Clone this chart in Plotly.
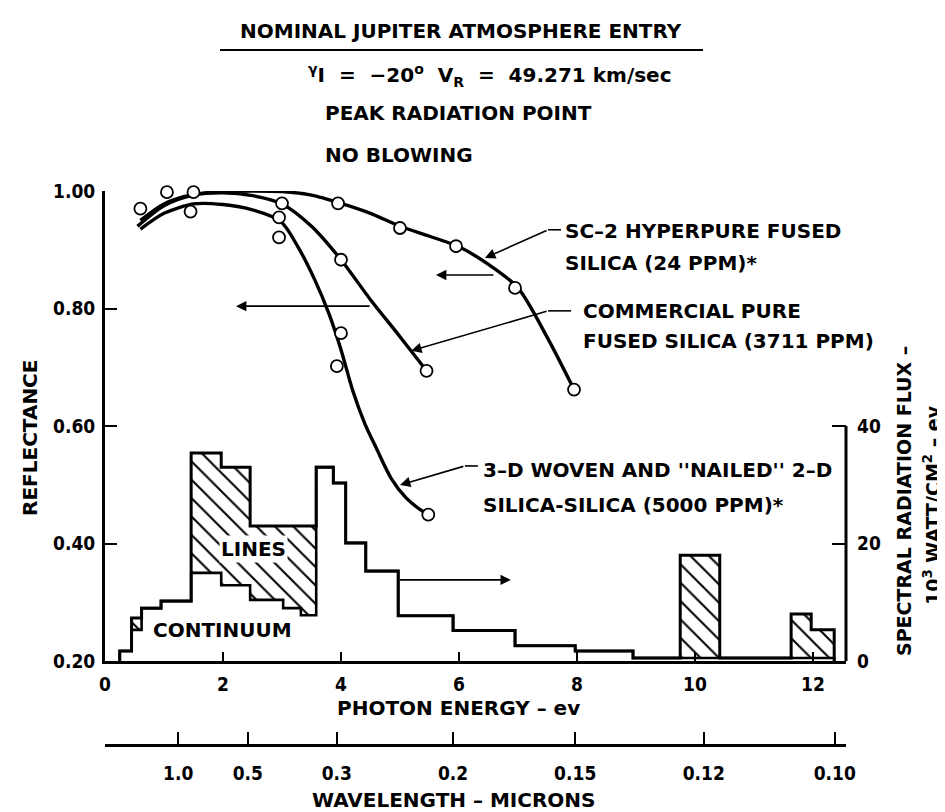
import plotly.graph_objects as go

# ---------------- data ----------------
energy_ticks = [0, 2, 4, 6, 8, 10, 12]
refl_ticks = [0.2, 0.4, 0.6, 0.8, 1.0]
refl_ticktext = ["0.20", "0.40", "0.60", "0.80", "1.00"]
flux_ticks = [0, 20, 40]
flux_ticktext = ["0", "20", "40"]
wl_tick_energy = [1.24, 2.42, 3.93, 5.9, 7.97, 10.15, 12.37]
wl_tick_labels = ["1.0", "0.5", "0.3", "0.2", "0.15", "0.12", "0.10"]

# reflectance curves (photon energy eV, reflectance)
sc2_curve_x = [0.6, 1.0, 1.5, 2.0, 2.5, 3.0, 3.5, 4.0, 4.5, 5.0, 5.5, 6.0, 6.5, 7.0, 7.5, 7.95]
sc2_curve_y = [0.95, 0.978, 0.994, 0.999, 1.0, 0.999, 0.993, 0.979, 0.962, 0.94, 0.923, 0.905, 0.875, 0.835, 0.75, 0.662]
com_curve_x = [0.55, 1.0, 1.5, 2.0, 2.5, 3.0, 3.5, 4.0, 4.5, 5.0, 5.45]
com_curve_y = [0.94, 0.975, 0.993, 0.997, 0.992, 0.978, 0.94, 0.883, 0.815, 0.752, 0.694]
wov_curve_x = [0.6, 1.0, 1.5, 2.0, 2.5, 2.98, 3.27, 3.55, 3.8, 4.0, 4.2, 4.4, 4.6, 4.85, 5.1, 5.31, 5.48]
wov_curve_y = [0.935, 0.962, 0.978, 0.977, 0.968, 0.948, 0.905, 0.85, 0.79, 0.73, 0.66, 0.605, 0.562, 0.511, 0.478, 0.46, 0.449]

# measured points (open circles)
sc2_pts_x = [1.05, 2.05, 3.0, 3.95, 5.0, 5.95, 6.95, 7.95]
sc2_pts_y = [0.998, 1.002, 1.005, 0.979, 0.937, 0.906, 0.835, 0.662]
com_pts_x = [0.6, 1.5, 3.0, 4.0, 5.45]
com_pts_y = [0.970, 0.998, 0.979, 0.883, 0.694]
wov_pts_x = [1.45, 2.95, 2.95, 3.93, 4.0, 5.48]
wov_pts_y = [0.965, 0.955, 0.921, 0.702, 0.758, 0.449]

# spectral radiation flux histogram (10^3 W/cm^2-eV)
bin_edges = [0.25, 0.45, 0.62, 0.95, 1.46, 1.97, 2.46, 3.02, 3.32, 3.58, 3.87, 4.08,
             4.42, 4.97, 5.90, 6.95, 7.97, 8.95, 9.75, 10.42, 11.63, 11.97, 12.36]
continuum = [1.7, 5.3, 9.0, 10.2, 15.0, 12.9, 10.4, 9.0, 7.8, 33.0, 30.3, 20.1,
             15.3, 7.7, 5.2, 2.6, 1.7, 0.5, 0.5, 0.5, 0.5, 0.5]
lines = [0, 2.0, 0, 0, 20.4, 20.1, 12.6, 14.0, 15.2, 0, 0, 0,
         0, 0, 0, 0, 0, 0, 17.5, 0, 7.5, 4.8]

# ---------------- geometry helpers ----------------
W, H = 945, 812
ML, MR, MT, MB = 97, 107, 183, 75
PW, PH = W - ML - MR, H - MT - MB
Y_BOTTOM_PX = 653  # pixel row of main x axis


def px(xp, yp):
    return (xp - ML) / PW, (H - MB - yp) / PH


total = [c + l for c, l in zip(continuum, lines)]


def step_outline(vals):
    xs, ys = [bin_edges[0]], [0]
    for k in range(len(vals)):
        xs += [bin_edges[k], bin_edges[k + 1]]
        ys += [vals[k], vals[k]]
    xs.append(bin_edges[-1]); ys.append(0)
    return xs, ys


out_x, out_y = step_outline(total)
con_x, con_y = step_outline(continuum)

# hatched polygons for line contributions (contiguous runs)
hx, hy = [], []
i = 0
n = len(lines)
while i < n:
    if lines[i] > 0:
        j = i
        while j + 1 < n and lines[j + 1] > 0:
            j += 1
        top_x, top_y, bot_x, bot_y = [], [], [], []
        for k in range(i, j + 1):
            top_x += [bin_edges[k], bin_edges[k + 1]]
            top_y += [total[k], total[k]]
            bot_x += [bin_edges[k], bin_edges[k + 1]]
            bot_y += [continuum[k], continuum[k]]
        hx += top_x + bot_x[::-1] + [top_x[0], None]
        hy += top_y + bot_y[::-1] + [top_y[0], None]
        i = j + 1
    else:
        i += 1

FONT = "DejaVu Sans"
TXT = dict(family=FONT, size=20, color="black", weight="bold")
TICKF = dict(family="DejaVu Sans Condensed, DejaVu Sans", size=19, color="black", weight="bold")

fig = go.Figure()

fig.add_trace(go.Scatter(x=hx, y=hy, mode="lines", fill="toself", yaxis="y2",
                         line=dict(width=0, color="black"),
                         fillcolor="white",
                         fillpattern=dict(shape="\\", size=13, solidity=0.16,
                                          fgcolor="black", bgcolor="white",
                                          fgopacity=1, fillmode="replace"),
                         hoverinfo="skip", showlegend=False))
fig.add_trace(go.Scatter(x=con_x, y=con_y, mode="lines", yaxis="y2",
                         line=dict(color="black", width=2.6),
                         hoverinfo="skip", showlegend=False))
fig.add_trace(go.Scatter(x=out_x, y=out_y, mode="lines", yaxis="y2",
                         line=dict(color="black", width=3),
                         hoverinfo="skip", showlegend=False))

for cx, cy in [(sc2_curve_x, sc2_curve_y), (com_curve_x, com_curve_y), (wov_curve_x, wov_curve_y)]:
    fig.add_trace(go.Scatter(x=cx, y=cy, mode="lines",
                             line=dict(color="black", width=3.4, shape="spline", smoothing=0.8),
                             hoverinfo="skip", showlegend=False))

for mx, my in [(sc2_pts_x, sc2_pts_y), (com_pts_x, com_pts_y), (wov_pts_x, wov_pts_y)]:
    fig.add_trace(go.Scatter(x=mx, y=my, mode="markers", cliponaxis=False,
                             marker=dict(symbol="circle", size=12, color="white",
                                         line=dict(color="black", width=1.8)),
                             hoverinfo="skip", showlegend=False))

# invisible trace to activate wavelength axis
fig.add_trace(go.Scatter(x=[wl_tick_energy[0]], y=[0.2], xaxis="x2", mode="markers",
                         marker=dict(opacity=0), hoverinfo="skip", showlegend=False))

y_dom0 = (H - MB - Y_BOTTOM_PX) / PH
XR = [0, 12.56]

fig.update_layout(
    width=W, height=H, autosize=False,
    margin=dict(l=ML, r=MR, t=MT, b=MB, pad=0),
    paper_bgcolor="white", plot_bgcolor="white",
    showlegend=False,
    font=TXT,
    xaxis=dict(range=XR, domain=[0, 1], tickvals=energy_ticks, ticks="inside",
               ticklen=9, tickwidth=2, tickcolor="black", showline=True, linewidth=3,
               linecolor="black", showgrid=False, zeroline=False, tickfont=TICKF,
               ticklabelstandoff=4, anchor="y"),
    yaxis=dict(range=[0.2, 1.0], domain=[y_dom0, 1], tickvals=refl_ticks,
               ticktext=refl_ticktext, ticks="inside", ticklen=12, tickwidth=2,
               tickcolor="black", showline=True, linewidth=3, linecolor="black",
               showgrid=False, zeroline=False, tickfont=TICKF, ticklabelstandoff=3),
    yaxis2=dict(range=[0, 80], overlaying="y", side="right", tickvals=flux_ticks,
                ticktext=flux_ticktext, ticks="inside", ticklen=14, tickwidth=2,
                tickcolor="black", showline=False, showgrid=False, zeroline=False,
                tickfont=TICKF, ticklabelstandoff=10, anchor="x"),
    xaxis2=dict(range=XR, overlaying="x", anchor="free", position=0, side="bottom",
                tickvals=wl_tick_energy, ticktext=wl_tick_labels, ticks="inside",
                ticklen=12, tickwidth=2, tickcolor="black", showline=True, linewidth=3,
                linecolor="black", showgrid=False, zeroline=False, tickfont=TICKF,
                ticklabelstandoff=10),
)

# right axis line (0 to 40 only)
fig.add_shape(type="line", xref="paper", x0=1, x1=1, yref="y2", y0=0, y1=40,
              line=dict(color="black", width=3))

annotations = []


def text_px(t, xp, yp, anchor="left", angle=0, size=20, bg=None):
    x, y = px(xp, yp)
    d = dict(text=t, x=x, y=y, xref="paper", yref="paper",
             xanchor=anchor, yanchor="middle", showarrow=False,
             textangle=angle, font=dict(TXT, size=size))
    if bg:
        d["bgcolor"] = bg
        d["borderpad"] = 1
    annotations.append(d)


# header
text_px("NOMINAL JUPITER ATMOSPHERE ENTRY", 453, 23, anchor="center")
fig.add_shape(type="line", xref="paper", yref="paper",
              x0=px(212, 42)[0], x1=px(695, 42)[0], y0=px(212, 42)[1], y1=px(212, 42)[1],
              line=dict(color="black", width=2))
text_px("<sup>γ</sup>I\u00a0\u00a0=\u00a0\u00a0−20<sup>o</sup>\u00a0\u00a0V<sub>R</sub>\u00a0\u00a0=\u00a0\u00a049.271 km/sec",
        298, 68)
text_px("PEAK RADIATION POINT", 315, 105)
text_px("NO BLOWING", 315, 147)

# curve labels
text_px("SC–2 HYPERPURE FUSED", 555, 223)
text_px("SILICA (24 PPM)*", 555, 255)
text_px("COMMERCIAL PURE", 573, 303)
text_px("FUSED SILICA (3711 PPM)", 573, 333)
text_px("3–D WOVEN AND ''NAILED'' 2–D", 473, 462)
text_px("SILICA-SILICA (5000 PPM)*", 473, 497)
text_px("LINES", 245, 541, anchor="center", bg="white")
text_px("CONTINUUM", 214, 622, anchor="center")

# axis titles
text_px("REFLECTANCE", 22, 430, anchor="center", angle=-90)
text_px("SPECTRAL RADIATION FLUX –", 896, 493, anchor="center", angle=-90, size=19)
text_px("10<sup>3</sup> WATT/CM<sup>2</sup> – ev", 924, 497, anchor="center", angle=-90, size=19)
text_px("PHOTON ENERGY – ev", 450, 700, anchor="center")
text_px("WAVELENGTH – MICRONS", 446, 792, anchor="center")


def arrow(hx_, hy_, tx_, ty_):
    annotations.append(dict(text="", x=hx_, y=hy_, ax=tx_, ay=ty_, xref="x", yref="y",
                            axref="x", ayref="y", showarrow=True, arrowhead=2,
                            arrowsize=1.3, arrowwidth=1.6, arrowcolor="black"))


def seg(x0, y0, x1, y1):
    fig.add_shape(type="line", xref="x", yref="y", x0=x0, y0=y0, x1=x1, y1=y1,
                  line=dict(color="black", width=1.6))


# leaders
arrow(6.44, 0.886, 7.51, 0.934); seg(7.51, 0.934, 7.73, 0.934)
arrow(5.61, 0.857, 6.61, 0.857)
arrow(5.19, 0.728, 7.51, 0.796); seg(7.51, 0.796, 7.90, 0.796)
arrow(2.22, 0.804, 4.51, 0.804)
arrow(5.00, 0.4996, 6.10, 0.532); seg(6.10, 0.532, 6.32, 0.532)
arrow(6.88, 0.338, 4.97, 0.338)

fig.update_layout(annotations=annotations)

fig.write_html("out.html")
